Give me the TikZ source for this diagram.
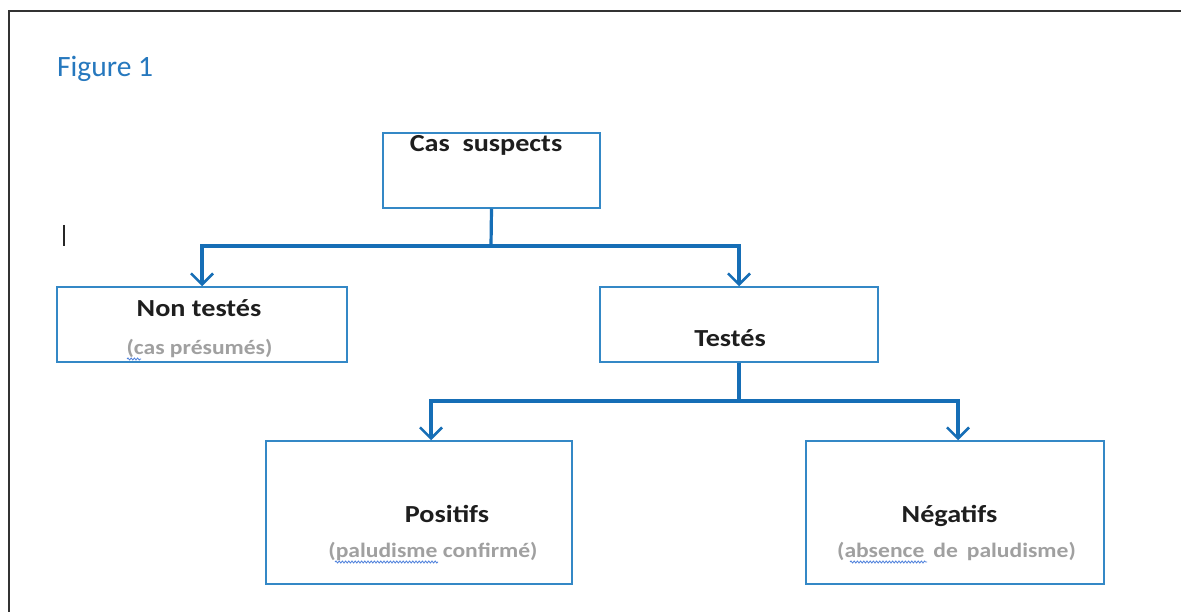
\documentclass[tikz,border=0pt]{standalone}
\usepackage{fontspec}
\usetikzlibrary{arrows.meta,decorations.pathmorphing}
\newfontfamily\calw[FakeStretch=1.15]{Carlito}
\newfontfamily\titlefont{Carlito}
\definecolor{connblue}{RGB}{22,110,182}
\definecolor{boxblue}{RGB}{52,136,198}
\definecolor{titleblue}{RGB}{38,120,190}
\definecolor{labeltext}{RGB}{30,30,30}
\definecolor{subgrey}{RGB}{160,160,160}
\definecolor{wavyblue}{RGB}{80,130,220}
\tikzset{
  box/.style={draw=boxblue, line width=1.5pt, rectangle, inner sep=0pt, fill=white},
  conn/.style={draw=connblue, line width=3.2pt, line join=miter},
  arr/.style={conn, -{Straight Barb[length=11pt, width=22pt, line width=2.6pt]}},
  lbl/.style={anchor=base, inner sep=0pt, text=labeltext, font=\calw\bfseries\fontsize{24.5}{28}\selectfont},
  sub/.style={anchor=base, inner sep=0pt, text=subgrey, font=\calw\bfseries\fontsize{20.5}{24}\selectfont},
  wavy/.style={draw=wavyblue, line width=0.8pt, decorate, decoration={snake, segment length=3.2pt, amplitude=1pt}},
}
\begin{document}
\begin{tikzpicture}[x=1pt, y=-1pt]
\useasboundingbox (0,0) rectangle (1181,612);
\fill[white] (0,0) rectangle (1181,612);
% page frame
\draw[line width=1.4pt, black!80] (9,612) -- (9,11) -- (1181,11);
% title
\node[anchor=base west, inner sep=0pt, text=titleblue, font=\titlefont\fontsize{29.5}{32}\selectfont] (title) at (57,77) {Figure 1};
% cursor
\draw[line width=1.3pt, black!85] (64,225) -- (64,246);
% boxes
\node[box, minimum width=217pt, minimum height=75pt] (cas) at (491.5,170.5) {};
\node[box, minimum width=290pt, minimum height=75pt] (non) at (202,324.5) {};
\node[box, minimum width=278pt, minimum height=75pt] (tes) at (739,324.5) {};
\node[box, minimum width=306pt, minimum height=143pt] (pos) at (419,512.5) {};
\node[box, minimum width=298pt, minimum height=143pt] (neg) at (955,512.5) {};
% texts
\node[lbl] (tcas) at (486,152) {Cas\ \ suspects};
\node[lbl] (tnon) at (199,317) {Non testés};
\node[sub] (snon) at (199.5,355) {(cas présumés)};
\node[lbl] (ttes) at (730,347) {Testés};
\node[lbl] (tpos) at (447,522) {Positifs};
\node[sub] (spos) at (433,557) {(paludisme confirmé)};
\node[lbl] (tneg) at (949.5,522) {Négatifs};
\node[sub] (sneg) at (956.5,557) {(absence\hspace{9pt}de\hspace{9pt}paludisme)};
% spell-check squiggles
\draw[wavy] (127,359) -- (141,359);
\draw[wavy] (335,562) -- (438,562);
\draw[wavy] (850,562) -- (927,562);
% connectors
\coordinate (j1) at (491,246);
\draw[conn] (cas.south) -- (j1);
\draw[arr] (j1) -| (non.north);
\draw[arr] (j1) -| (tes.north);
\coordinate (j2) at (739,401);
\coordinate (p2) at (431,401);
\coordinate (n2) at (958,401);
\draw[conn] (tes.south) -- (j2);
\draw[arr] (j2) -| (p2 |- pos.north);
\draw[arr] (j2) -| (n2 |- neg.north);
\end{tikzpicture}
\end{document}
